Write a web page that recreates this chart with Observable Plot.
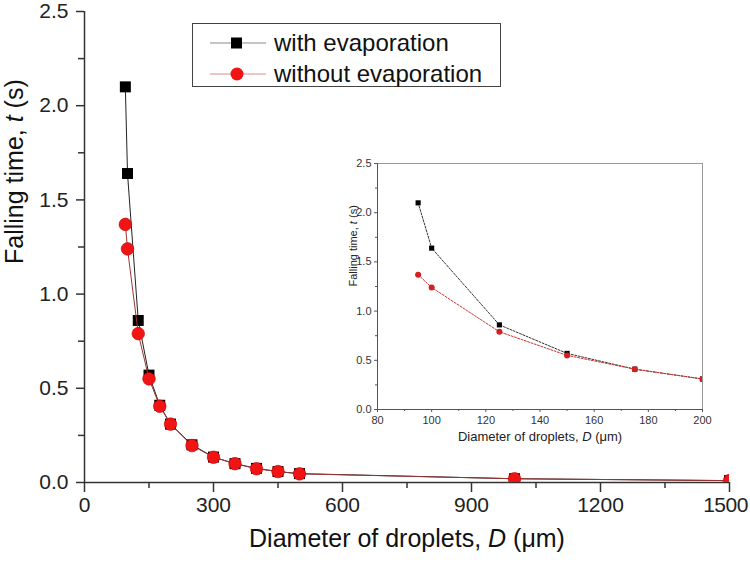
<!DOCTYPE html>
<html><head><meta charset="utf-8">
<script src="https://cdn.jsdelivr.net/npm/d3@7"></script>
<script src="https://cdn.jsdelivr.net/npm/@observablehq/plot@0.6"></script>
<style>
body{margin:0;background:#fff;}
#wrap{position:relative;width:750px;height:564px;font-family:"Liberation Sans",Arial,sans-serif;overflow:hidden;}
#wrap > svg{position:absolute;}
.legend{position:absolute;left:192px;top:23px;width:307px;height:62px;border:1px solid #444;background:#fff;}
.legend .row{position:absolute;left:0;height:30px;width:100%;}
.legend .row svg{position:absolute;left:16px;top:0;}
.legend .row span{position:absolute;left:81px;top:0;line-height:30px;font-size:24px;color:#111;white-space:nowrap;}
</style></head><body><div id="wrap"></div>
<script>
// ---- data ----
const diameters   = [95, 100, 125, 150, 175, 200, 250, 300, 350, 400, 450, 500, 1000, 1500];
const withEvap    = [2.10, 1.64, 0.86, 0.57, 0.41, 0.31, 0.20, 0.135, 0.10, 0.075, 0.058, 0.047, 0.02, 0.01];
const withoutEvap = [1.37, 1.24, 0.79, 0.55, 0.405, 0.31, 0.196, 0.134, 0.10, 0.073, 0.058, 0.046, 0.02, 0.01];
const seriesNames = ["with evaporation", "without evaporation"];

const insetDiameters = [95, 100, 125, 150, 175, 200];
const insetWith      = [2.10, 1.64, 0.86, 0.57, 0.41, 0.31];
const insetWithout   = [1.37, 1.24, 0.79, 0.55, 0.41, 0.31];

const mainXTicks = [0, 300, 600, 900, 1200, 1500];
const mainXMinor = [150, 450, 750, 1050, 1350];
const mainYTicks = [0, 0.5, 1.0, 1.5, 2.0, 2.5];
const mainYMinor = [0.25, 0.75, 1.25, 1.75, 2.25];
const insetXTicks = [80, 100, 120, 140, 160, 180, 200];
const insetXMinor = [90, 110, 130, 150, 170, 190];
const insetYTicks = [0, 0.5, 1.0, 1.5, 2.0, 2.5];
const insetYMinor = [0.25, 0.75, 1.25, 1.75, 2.25];

const xLabel = "Diameter of droplets, D (μm)";
const yLabel = "Falling time, t (s)";

// ---- build rows ----
const rowsWith = diameters.map((D, i) => ({D, t: withEvap[i], s: seriesNames[0]}));
const rowsWithout = diameters.map((D, i) => ({D, t: withoutEvap[i], s: seriesNames[1]}));
const insetRowsWith = insetDiameters.map((D, i) => ({D, t: insetWith[i]}));
const insetRowsWithout = insetDiameters.map((D, i) => ({D, t: insetWithout[i]}));

const FONT = "'Liberation Sans', Arial, sans-serif";
const fmt1 = d => d.toFixed(1);
const fmt0 = d => String(d);

const main = Plot.plot({
  width: 750, height: 564,
  marginLeft: 84, marginRight: 21, marginTop: 11, marginBottom: 82,
  style: {fontFamily: FONT, fontSize: "20px", color: "#222", background: "transparent"},
  x: {domain: [0, 1500]},
  y: {domain: [0, 2.5]},
  marks: [
    Plot.axisX({ticks: mainXTicks, tickSize: 10, tickPadding: 5, label: null, tickFormat: fmt0, fontSize: 21, stroke: "#333", strokeWidth: 1.5, fill: "#222"}),
    Plot.axisX({ticks: mainXMinor, tickSize: 6, text: null, label: null, stroke: "#333", strokeWidth: 1.5}),
    Plot.axisY({ticks: mainYTicks, tickSize: 8, tickPadding: 8, label: null, tickFormat: fmt1, fontSize: 21, stroke: "#333", strokeWidth: 1.5, fill: "#222"}),
    Plot.axisY({ticks: mainYMinor, tickSize: 6, text: null, label: null, stroke: "#333", strokeWidth: 1.5}),
    Plot.ruleX([0], {stroke: "#333", strokeWidth: 1.5}),
    Plot.ruleY([0], {stroke: "#333", strokeWidth: 1.5}),
    Plot.line(rowsWith, {x: "D", y: "t", stroke: "#222", strokeWidth: 1, clip: true}),
    Plot.dot(rowsWith, {x: "D", y: "t", symbol: "square", r: 6.2, fill: "#000", stroke: "none", clip: true}),
    Plot.line(rowsWithout, {x: "D", y: "t", stroke: "#9a3434", strokeWidth: 1, clip: true}),
    Plot.dot(rowsWithout, {x: "D", y: "t", r: 6.3, fill: "#f01414", stroke: "#c80000", strokeWidth: 0.6, clip: true}),
    Plot.text([xLabel], {frameAnchor: "bottom", dy: 64, fontSize: 25, fill: "#111"}),
    Plot.text([yLabel], {frameAnchor: "left", dx: -70, dy: 17, rotate: -90, fontSize: 25, fill: "#111"})
  ]
});

const inset = Plot.plot({
  width: 390, height: 310,
  marginLeft: 47, marginRight: 18, marginTop: 13, marginBottom: 51,
  style: {fontFamily: FONT, fontSize: "11px", color: "#333", background: "transparent"},
  x: {domain: [80, 200]},
  y: {domain: [0, 2.5]},
  marks: [
    Plot.frame({stroke: "#999"}),
    Plot.axisX({ticks: insetXTicks, tickSize: 3, tickPadding: 4, label: null, stroke: "#555", fill: "#333", fontSize: 11}),
    Plot.axisX({ticks: insetXMinor, tickSize: 2, text: null, label: null, stroke: "#555"}),
    Plot.axisY({ticks: insetYTicks, tickSize: 3, tickPadding: 3, tickFormat: fmt1, label: null, stroke: "#555", fill: "#333", fontSize: 11}),
    Plot.axisY({ticks: insetYMinor, tickSize: 2, text: null, label: null, stroke: "#555"}),
    Plot.ruleX([80], {stroke: "#555"}),
    Plot.ruleY([0], {stroke: "#555"}),
    Plot.line(insetRowsWith, {x: "D", y: "t", stroke: "#333", strokeWidth: 1, strokeDasharray: "2,1.5", clip: true}),
    Plot.dot(insetRowsWith, {x: "D", y: "t", symbol: "square", r: 2.9, fill: "#000", stroke: "none", clip: true}),
    Plot.line(insetRowsWithout, {x: "D", y: "t", stroke: "#c33", strokeWidth: 1, strokeDasharray: "2,1.5", clip: true}),
    Plot.dot(insetRowsWithout, {x: "D", y: "t", r: 3, fill: "#d42020", stroke: "none", clip: true}),
    Plot.text([xLabel], {frameAnchor: "bottom", dy: 31, fontSize: 13, fill: "#222"}),
    Plot.text([yLabel], {frameAnchor: "left", dx: -24, rotate: -90, fontSize: 11, fill: "#222"})
  ]
});

const wrap = document.getElementById("wrap");
main.style.left = "0px"; main.style.top = "0px";
inset.style.left = "330px"; inset.style.top = "150px";
wrap.appendChild(main);
wrap.appendChild(inset);

// keep the last x tick label inside the picture
d3.select(main).selectAll("text").filter(function () { return d3.select(this).text() === "1500"; })
  .attr("dx", -4).attr("letter-spacing", "-0.5");

// italicize variable symbols in the axis titles
function italicize(svg) {
  d3.select(svg).selectAll("text").each(function () {
    const el = d3.select(this);
    const s = el.text();
    let parts = null;
    if (s === xLabel) parts = ["Diameter of droplets, ", "D", " (μm)"];
    else if (s === yLabel) parts = ["Falling time, ", "t", " (s)"];
    if (!parts) return;
    const target = el.select("tspan").empty() ? el : el.select("tspan");
    target.text(null);
    parts.forEach((p, i) => {
      target.append("tspan").text(p).attr("font-style", i === 1 ? "italic" : null);
    });
  });
}
italicize(main);
italicize(inset);

// legend
const legend = document.createElement("div");
legend.className = "legend";
const legendStyles = [
  {line: "#8a8a8a", marker: "square", fill: "#000"},
  {line: "#e08a8a", marker: "circle", fill: "#f01414"}
];
seriesNames.forEach((name, i) => {
  const row = document.createElement("div");
  row.className = "row";
  row.style.top = (4 + i * 31) + "px";
  const st = legendStyles[i];
  const markerSvg = st.marker === "square"
    ? `<rect x="22" y="9.5" width="11" height="11" fill="${st.fill}"/>`
    : `<circle cx="28" cy="15" r="6.5" fill="${st.fill}"/>`;
  row.innerHTML = `<svg width="60" height="30"><line x1="1" x2="57" y1="15" y2="15" stroke="${st.line}" stroke-width="1.2"/>${markerSvg}</svg><span>${name}</span>`;
  legend.appendChild(row);
});
wrap.appendChild(legend);
</script>
</body></html>
